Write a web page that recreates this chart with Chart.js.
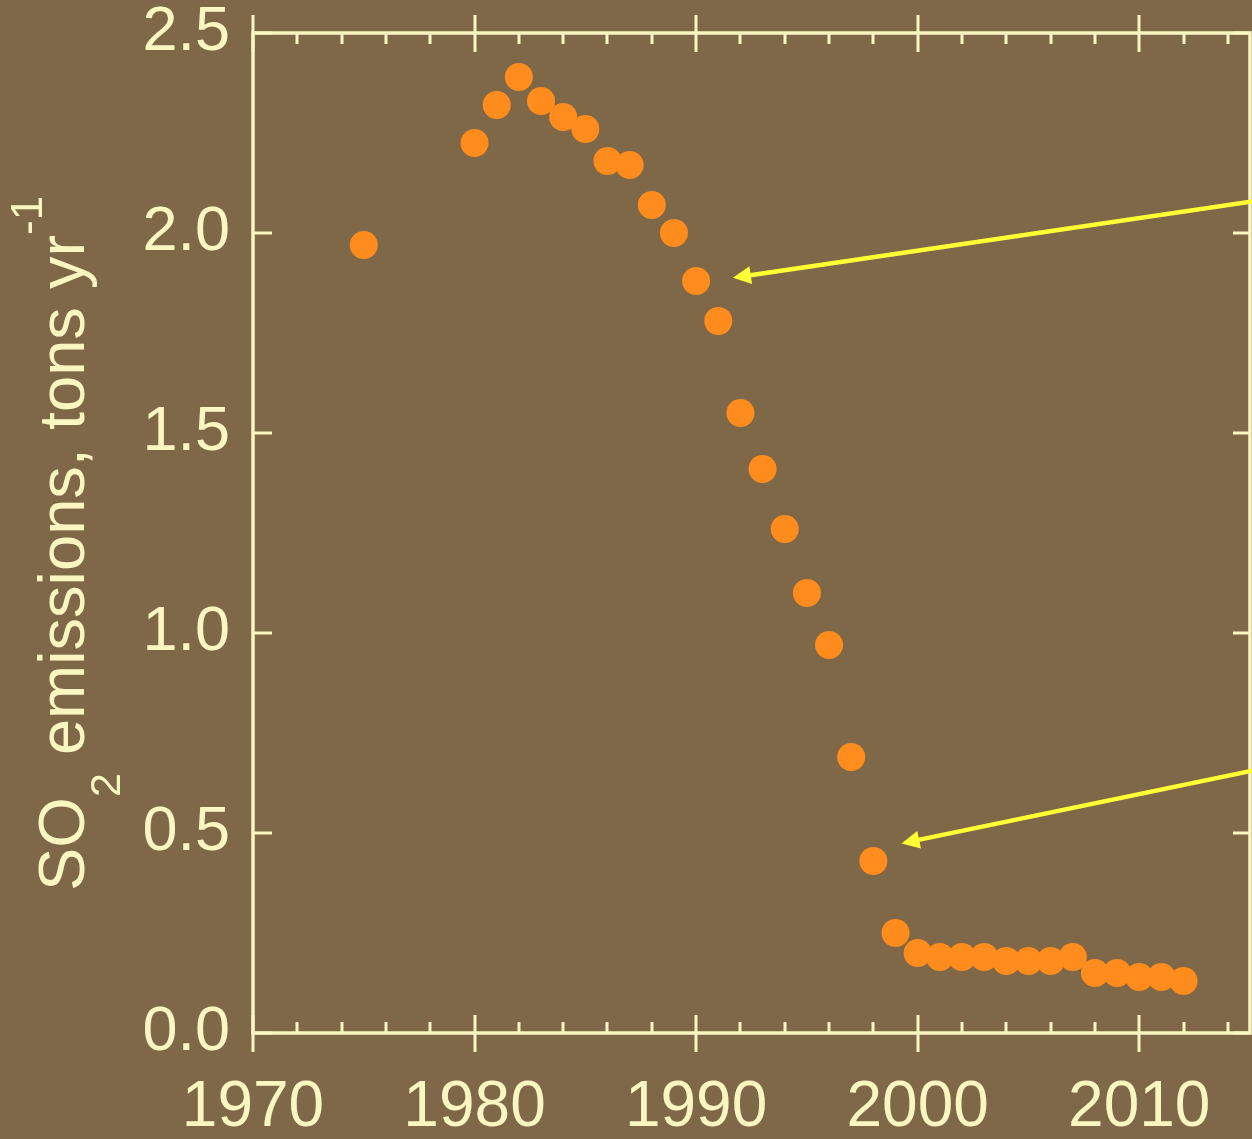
<!DOCTYPE html>
<html>
<head>
<meta charset="utf-8">
<title>SO2 emissions</title>
<script src="https://cdn.jsdelivr.net/npm/chart.js@4.4.1/dist/chart.umd.min.js"></script>
<style>
  html, body { margin: 0; padding: 0; background: #7f6848; }
  #wrap { width: 1252px; height: 1139px; position: relative; }
</style>
</head>
<body>
<div id="wrap"><canvas id="chart"></canvas></div>
<script>
// Annual SO2 emissions
const years = [1975, 1980, 1981, 1982, 1983, 1984, 1985, 1986, 1987, 1988, 1989,
               1990, 1991, 1992, 1993, 1994, 1995, 1996, 1997, 1998, 1999,
               2000, 2001, 2002, 2003, 2004, 2005, 2006, 2007, 2008, 2009,
               2010, 2011, 2012];
const so2 = [1.97, 2.225, 2.32, 2.39, 2.33, 2.29, 2.26, 2.18, 2.17, 2.07, 2.00,
             1.88, 1.78, 1.55, 1.41, 1.26, 1.10, 0.97, 0.69, 0.43, 0.25,
             0.20, 0.19, 0.19, 0.19, 0.18, 0.18, 0.18, 0.19, 0.15, 0.15,
             0.14, 0.14, 0.13];

const xTicks = [1970, 1980, 1990, 2000, 2010];
const yTicks = [0, 0.5, 1.0, 1.5, 2.0, 2.5];

// Callout arrows: [tail year, tail value, head year, head value]
const arrows = [
  [2016, 2.086, 1991.66, 1.888],
  [2016, 0.666, 1999.27, 0.474]
];

const INK = '#f9f6c2';
const DOT = '#ff8c1c';
const ARROW = '#ffff33';
const FONT = '"Liberation Sans", Arial, Helvetica, sans-serif';

// Box frame with inward ticks on all four sides (decade ticks cross the x axes)
const framePlugin = {
  id: 'frame',
  beforeDatasetsDraw(chart) {
    const { ctx, chartArea: a, scales: { x, y } } = chart;
    ctx.save();
    ctx.strokeStyle = INK;
    ctx.lineCap = 'butt';
    ctx.lineWidth = 3.5;
    ctx.strokeRect(a.left, a.top, a.right - a.left, a.bottom - a.top);
    ctx.lineWidth = 3;
    ctx.beginPath();
    for (let yr = x.min; yr <= x.max; yr += 2) {
      if (yr % 10 === 0) continue;
      const px = Math.round(x.getPixelForValue(yr));
      ctx.moveTo(px, a.bottom); ctx.lineTo(px, a.bottom - 11);
      ctx.moveTo(px, a.top); ctx.lineTo(px, a.top + 11);
    }
    for (const v of xTicks) {
      const px = Math.round(x.getPixelForValue(v));
      ctx.moveTo(px, a.bottom - 18); ctx.lineTo(px, a.bottom + 19);
      ctx.moveTo(px, a.top + 19); ctx.lineTo(px, a.top - 18);
    }
    for (const v of yTicks) {
      const py = Math.round(y.getPixelForValue(v));
      ctx.moveTo(a.left, py); ctx.lineTo(a.left + 19, py);
      ctx.moveTo(a.right, py); ctx.lineTo(a.right - 17, py);
    }
    ctx.stroke();
    ctx.restore();
  }
};

// Yellow callout arrows
const arrowPlugin = {
  id: 'arrows',
  afterDraw(chart) {
    const { ctx, scales: { x, y } } = chart;
    ctx.save();
    ctx.strokeStyle = ARROW;
    ctx.fillStyle = ARROW;
    ctx.lineWidth = 4.5;
    for (const [x0, y0, x1, y1] of arrows) {
      const ax = x.getPixelForValue(x0), ay = y.getPixelForValue(y0);
      const bx = x.getPixelForValue(x1), by = y.getPixelForValue(y1);
      const ang = Math.atan2(by - ay, bx - ax);
      const headLen = 18, headHalf = 9;
      const hx = bx - headLen * Math.cos(ang), hy = by - headLen * Math.sin(ang);
      ctx.beginPath();
      ctx.moveTo(ax, ay);
      ctx.lineTo(hx + 2 * Math.cos(ang), hy + 2 * Math.sin(ang));
      ctx.stroke();
      ctx.beginPath();
      ctx.moveTo(bx, by);
      ctx.lineTo(hx + headHalf * Math.sin(ang), hy - headHalf * Math.cos(ang));
      ctx.lineTo(hx - headHalf * Math.sin(ang), hy + headHalf * Math.cos(ang));
      ctx.closePath();
      ctx.fill();
    }
    ctx.restore();
  }
};

// Rotated y-axis title with subscript and superscript
const yTitlePlugin = {
  id: 'yTitle',
  afterDraw(chart) {
    const { ctx } = chart;
    const parts = [
      { t: 'SO', size: 65, dy: 0 },
      { t: '2', size: 43, dy: 36 },
      { t: ' emissions, tons yr', size: 65, dy: 0 },
      { t: '-1', size: 44, dy: -42 }
    ];
    ctx.save();
    ctx.translate(84, 891);
    ctx.rotate(-Math.PI / 2);
    ctx.fillStyle = INK;
    ctx.textAlign = 'left';
    ctx.textBaseline = 'alphabetic';
    let pos = 0;
    for (const p of parts) {
      ctx.font = p.size + 'px ' + FONT;
      ctx.fillText(p.t, pos, p.dy);
      pos += ctx.measureText(p.t).width;
    }
    ctx.restore();
  }
};

new Chart(document.getElementById('chart'), {
  type: 'scatter',
  data: {
    datasets: [{
      data: years.map((yr, i) => ({ x: yr, y: so2[i] })),
      backgroundColor: DOT,
      borderColor: DOT,
      borderWidth: 0,
      pointRadius: 14,
      pointHoverRadius: 14
    }]
  },
  options: {
    responsive: true,
    maintainAspectRatio: false,
    animation: false,
    layout: { autoPadding: false, padding: { top: 33, right: 2, left: 0, bottom: 0 } },
    plugins: { legend: { display: false }, tooltip: { enabled: false } },
    scales: {
      x: {
        type: 'linear',
        min: 1970,
        max: 2015,
        grid: { display: false, drawTicks: false },
        border: { display: false },
        afterBuildTicks: s => { s.ticks = xTicks.map(v => ({ value: v })); },
        afterFit: s => { s.height = 106; s.paddingLeft = 0; s.paddingRight = 0; },
        ticks: {
          color: INK,
          font: { family: FONT, size: 64 },
          padding: 37,
          maxRotation: 0,
          autoSkip: false,
          callback: v => String(v)
        }
      },
      y: {
        min: 0,
        max: 2.5,
        grid: { display: false, drawTicks: false },
        border: { display: false },
        afterBuildTicks: s => { s.ticks = yTicks.map(v => ({ value: v })); },
        afterFit: s => { s.width = 253; s.paddingTop = 0; s.paddingBottom = 0; },
        ticks: {
          color: INK,
          font: { family: FONT, size: 63 },
          padding: 23,
          autoSkip: false,
          callback: v => Number(v).toFixed(1)
        }
      }
    }
  },
  plugins: [framePlugin, arrowPlugin, yTitlePlugin]
});
</script>
</body>
</html>
